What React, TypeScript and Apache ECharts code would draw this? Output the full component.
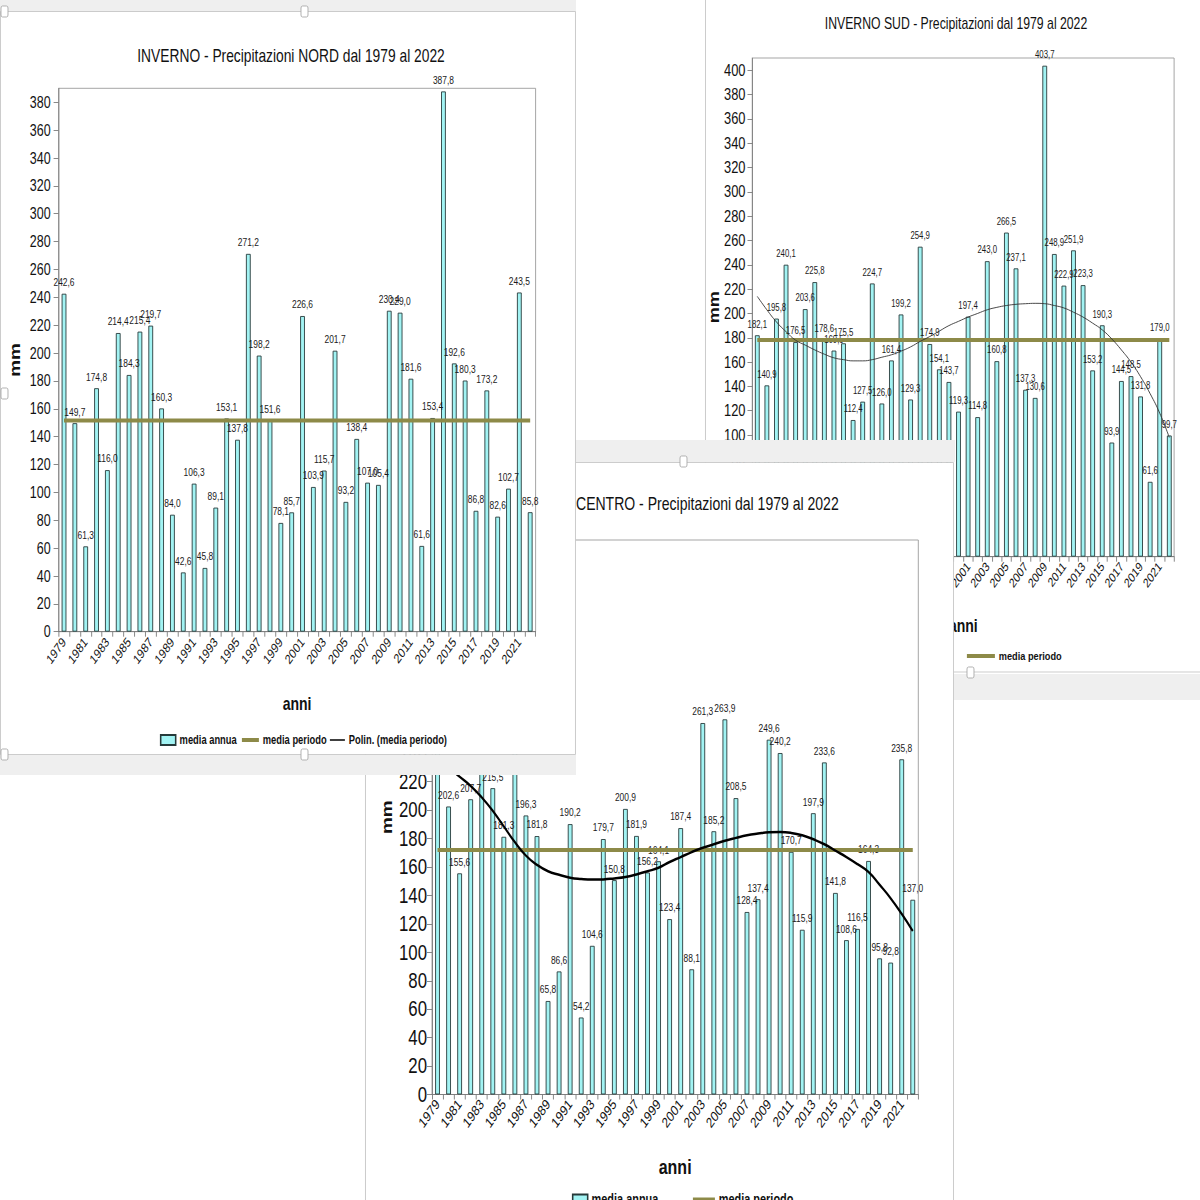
import React, { useEffect, useRef } from "react";
import * as echarts from "echarts";

const YEARS = [
  "1979", "1980", "1981", "1982", "1983", "1984", "1985", "1986", "1987", "1988",
  "1989", "1990", "1991", "1992", "1993", "1994", "1995", "1996", "1997", "1998",
  "1999", "2000", "2001", "2002", "2003", "2004", "2005", "2006", "2007", "2008",
  "2009", "2010", "2011", "2012", "2013", "2014", "2015", "2016", "2017", "2018",
  "2019", "2020", "2021", "2022",
];

const NORD_VALUES = [
  242.6, 149.7, 61.3, 174.8, 116.0, 214.4, 184.3, 215.4, 219.7, 160.3,
  84.0, 42.6, 106.3, 45.8, 89.1, 153.1, 137.8, 271.2, 198.2, 151.6,
  78.1, 85.7, 226.6, 103.9, 115.7, 201.7, 93.2, 138.4, 107.0, 105.4,
  230.4, 229.0, 181.6, 61.6, 153.4, 387.8, 192.6, 180.3, 86.8, 173.2,
  82.6, 102.7, 243.5, 85.8,
];
const NORD_MEDIA = 151.5;

const SUD_VALUES = [
  182.1, 140.9, 195.8, 240.1, 176.5, 203.6, 225.8, 178.6, 169.5, 175.5,
  112.4, 127.5, 224.7, 126.0, 161.4, 199.2, 129.3, 254.9, 174.9, 154.1,
  143.7, 119.3, 197.4, 114.8, 243.0, 160.8, 266.5, 237.1, 137.3, 130.6,
  403.7, 248.9, 222.9, 251.9, 223.3, 153.2, 190.3, 93.9, 144.5, 148.5,
  131.8, 61.6, 179.0, 99.7,
];
const SUD_MEDIA = 178.2;
const SUD_TREND = [
  214, 203, 193, 185, 178, 174, 170, 166.5, 163.5, 162,
  161, 161, 162, 164, 166, 169, 172.5, 177, 181, 185.5,
  190, 193.5, 197, 200, 203, 205, 206.5, 207.5, 208, 208.3,
  208, 206.5, 204.5, 201, 197, 192, 186.5, 179, 170, 160,
  148, 134, 118, 98,
];

const CENTRO_VALUES = [
  262.0, 202.6, 155.6, 207.7, 236.0, 215.5, 181.3, 246.0, 196.3, 181.8,
  65.8, 86.6, 190.2, 54.2, 104.6, 179.7, 150.8, 200.9, 181.9, 156.2,
  164.1, 123.4, 187.4, 88.1, 261.3, 185.2, 263.9, 208.5, 128.4, 137.4,
  249.6, 240.2, 170.7, 115.9, 197.9, 233.6, 141.8, 108.6, 116.5, 164.3,
  95.8, 92.8, 235.8, 137.0,
];
const CENTRO_MEDIA = 172.0;
const CENTRO_TREND = [
  236, 230, 223.5, 217, 209, 199.5, 188.5, 177.5, 168, 161.5,
  157, 154.5, 152.5, 151.6, 151.2, 151.3, 152, 153, 154.8, 157,
  159.5, 163.5, 167, 170.5, 173.5, 176, 178.5, 180.5, 182.3, 183.5,
  184.4, 184.6, 184, 182.3, 179.5, 176, 171.5, 167, 162, 156.5,
  147.5, 138, 127, 115,
];

// The reference is a horizontally compressed screenshot: the chart is drawn
// wider and squeezed back with a CSS scaleX so that text looks condensed.
const SX = 0.78;
const cx = (v: number) => v / SX;
const CHART_W = Math.ceil(1200 / SX);

const FONT = '"Liberation Sans", Arial, sans-serif';
const BAR_FILL = "#a2f3f3";
const BAR_EDGE = "#263a3a";
const OLIVE = "#8d8a48";
const AXIS = "#7a7a7a";

const fmt = (p: any) => Number(p.value).toFixed(1).replace(".", ",");

type Cfg = {
  i: number;
  z: number;
  grid: { left: number; top: number; width: number; height: number };
  max: number;
  values: number[];
  media: number;
  trend: number[] | null;
  trendWidth: number;
  trendColor: string;
  yFont: number;
  yMargin: number;
  xFont: number;
  xMargin: number;
  labelFont: number;
  nameGapX: number;
  nameGapY: number;
  nameFont: number;
  mmFont: number;
  extraLegendSeries: boolean;
};

function build(c: Cfg) {
  const grid = {
    ...c.grid,
    show: true,
    borderColor: "#9a9a9a",
    borderWidth: 1,
    backgroundColor: "transparent",
    z: c.z + 1,
  };
  const xAxis = {
    type: "category",
    gridIndex: c.i,
    data: YEARS,
    z: c.z + 1,
    axisLine: { lineStyle: { color: AXIS, width: 1 } },
    axisTick: { show: true, interval: 0, length: 5, lineStyle: { color: AXIS } },
    axisLabel: {
      interval: 1,
      rotate: 48,
      fontSize: c.xFont,
      fontFamily: FONT,
      color: "#111",
      margin: c.xMargin,
    },
    name: "anni",
    nameLocation: "middle",
    nameGap: c.nameGapX,
    nameTextStyle: { fontSize: c.nameFont, fontWeight: "bold", fontFamily: FONT, color: "#111" },
  };
  const yAxis = {
    type: "value",
    gridIndex: c.i,
    min: 0,
    max: c.max,
    interval: 20,
    z: c.z + 1,
    splitLine: { show: false },
    axisLine: { show: true, lineStyle: { color: AXIS } },
    axisTick: { show: true, length: cx(5), lineStyle: { color: AXIS } },
    axisLabel: {
      fontSize: c.yFont,
      fontFamily: FONT,
      color: "#111",
      margin: c.yMargin,
      showMaxLabel: false,
    },
    name: "mm",
    nameLocation: "middle",
    nameRotate: 90,
    nameGap: c.nameGapY,
    nameTextStyle: { fontSize: c.mmFont, fontWeight: "bold", fontFamily: FONT, color: "#111" },
  };
  const series: any[] = [
    {
      type: "bar",
      name: "media annua",
      xAxisIndex: c.i,
      yAxisIndex: c.i,
      data: c.values,
      barWidth: 6,
      z: c.z + 2,
      itemStyle: { color: BAR_FILL, borderColor: BAR_EDGE, borderWidth: 1 },
      label: {
        show: true,
        position: "top",
        distance: 6,
        fontSize: c.labelFont,
        fontFamily: FONT,
        color: "#1a1a1a",
        formatter: fmt,
      },
    },
    {
      type: "line",
      name: "media periodo",
      xAxisIndex: c.i,
      yAxisIndex: c.i,
      data: new Array(YEARS.length).fill(c.media),
      symbol: "none",
      z: c.z + 3,
      lineStyle: { color: OLIVE, width: 4 },
      itemStyle: { color: OLIVE },
    },
  ];
  if (c.trend) {
    series.push({
      type: "line",
      name: "Polin. (media annua)",
      xAxisIndex: c.i,
      yAxisIndex: c.i,
      data: c.trend,
      smooth: 0.5,
      symbol: "none",
      z: c.z + 4,
      lineStyle: { color: c.trendColor, width: c.trendWidth },
      itemStyle: { color: c.trendColor },
    });
  }
  if (c.extraLegendSeries) {
    series.push({
      type: "line",
      name: "Polin. (media periodo)",
      xAxisIndex: c.i,
      yAxisIndex: c.i,
      data: [],
      symbol: "none",
      z: c.z + 4,
      lineStyle: { color: "#000", width: 1 },
      itemStyle: { color: "#000" },
    });
  }
  return { grid, xAxis, yAxis, series };
}

const sud = build({
  i: 0, z: 2,
  grid: { left: cx(752.5), top: 58, width: cx(421.6), height: 498.7 },
  max: 410, values: SUD_VALUES, media: SUD_MEDIA, trend: SUD_TREND,
  trendWidth: 1, trendColor: "#333",
  yFont: 16.5, yMargin: cx(7), xFont: 13, xMargin: 7, labelFont: 10,
  nameGapX: 60, nameGapY: cx(30), nameFont: 18, mmFont: 18, extraLegendSeries: false,
});
const centro = build({
  i: 1, z: 12,
  grid: { left: cx(432), top: 540, width: cx(486.3), height: 554.5 },
  max: 390, values: CENTRO_VALUES, media: CENTRO_MEDIA, trend: CENTRO_TREND,
  trendWidth: 2.5, trendColor: "#000",
  yFont: 21.5, yMargin: cx(5), xFont: 14.5, xMargin: 7, labelFont: 10.8,
  nameGapX: 62, nameGapY: cx(37), nameFont: 20.5, mmFont: 19, extraLegendSeries: false,
});
const nord = build({
  i: 2, z: 22,
  grid: { left: cx(58.6), top: 88.3, width: cx(477), height: 543.4 },
  max: 390, values: NORD_VALUES, media: NORD_MEDIA, trend: null,
  trendWidth: 1, trendColor: "#000",
  yFont: 16, yMargin: cx(8), xFont: 13.5, xMargin: 8, labelFont: 10.8,
  nameGapX: 63, nameGapY: cx(36), nameFont: 18, mmFont: 19, extraLegendSeries: true,
});

const handle = (x: number, y: number, z: number) => ({
  type: "rect",
  z,
  silent: true,
  shape: { x: cx(x), y, width: cx(7), height: 11, r: 2 },
  style: { fill: "#fff", stroke: "#a8a8a8", lineWidth: 1 },
});
const panelRect = (x: number, y: number, w: number, h: number, z: number, fill: string, stroke?: string) => ({
  type: "rect",
  z,
  silent: true,
  shape: { x: cx(x), y, width: cx(w), height: h },
  style: stroke ? { fill, stroke, lineWidth: 1 } : { fill },
});

const legendText = (size: number) => ({ fontSize: size, fontWeight: "bold", fontFamily: FONT, color: "#111" });
const titleStyle = (size: number) => ({
  fontFamily: FONT,
  fontSize: size,
  fontWeight: "normal",
  color: "#111",
});

// one legend component per entry, so each swatch keeps its own shape and place
const legendItem = (
  name: string, left: number, top: number, w: number, h: number, z: number, size: number, color?: string,
) => ({
  z,
  left: cx(left),
  top,
  itemWidth: cx(w),
  itemHeight: h,
  selectedMode: false,
  data: [color ? { name, icon: "rect", itemStyle: { color, borderWidth: 0 } } : { name, icon: "rect" }],
  textStyle: legendText(size),
});

const option: any = {
  animation: false,
  backgroundColor: "#ffffff",
  title: [
    {
      text: "INVERNO SUD - Precipitazioni dal 1979 al 2022",
      left: cx(956), top: 15, textAlign: "center", padding: 0, z: 5,
      textStyle: titleStyle(15.7),
    },
    {
      text: "CENTRO - Precipitazioni dal 1979 al 2022",
      left: cx(576), top: 494, padding: 0, z: 15,
      textStyle: titleStyle(18),
    },
    {
      text: "INVERNO - Precipitazioni NORD dal 1979 al 2022",
      left: cx(291), top: 47, textAlign: "center", padding: 0, z: 25,
      textStyle: titleStyle(17.7),
    },
  ],
  legend: [
    legendItem("media periodo", 963, 645, 28, 4, 5, 11.8, OLIVE),
    legendItem("media annua", 568, 1188, 15, 11, 15, 14),
    legendItem("media periodo", 689, 1188, 22, 5, 15, 14, OLIVE),
    legendItem("media annua", 156, 729, 15, 10, 25, 12),
    legendItem("media periodo", 238, 729, 17, 4, 25, 12, OLIVE),
    legendItem("Polin. (media periodo)", 326, 729, 15, 1.5, 25, 12, "#000"),
  ],
  grid: [sud.grid, centro.grid, nord.grid],
  xAxis: [sud.xAxis, centro.xAxis, nord.xAxis],
  yAxis: [sud.yAxis, centro.yAxis, nord.yAxis],
  series: [...sud.series, ...centro.series, ...nord.series],
  graphic: {
    elements: [
      // SUD panel (back)
      panelRect(705.5, -2, 500, 674, 1, "#fff", "#c6c6c6"),
      panelRect(705, 674, 495, 26, 1, "#efefef"),
      handle(967, 667, 1),
      // CENTRO panel (middle)
      panelRect(365, 440, 590, 22, 10, "#efefef"),
      panelRect(365.5, 462.5, 588, 745, 10, "#fff", "#c6c6c6"),
      handle(680, 456, 10),
      // NORD panel (front)
      panelRect(0, 0, 576, 12, 20, "#efefef"),
      panelRect(0.5, 11.5, 575, 743, 20, "#fff", "#c6c6c6"),
      panelRect(0, 755, 576, 20, 20, "#efefef"),
      handle(1, 6, 20),
      handle(301, 6, 20),
      handle(1, 388, 20),
      handle(1, 749, 20),
      handle(301, 749, 20),
    ],
  },
};

export default function App() {
  const ref = useRef<HTMLDivElement>(null);
  useEffect(() => {
    if (!ref.current) return;
    const chart = echarts.init(ref.current, undefined, { renderer: "svg" });
    chart.setOption(option);
    return () => chart.dispose();
  }, []);
  return (
    <div
      style={{
        position: "absolute",
        left: 0,
        top: 0,
        width: 1200,
        height: 1200,
        overflow: "hidden",
        background: "#fff",
      }}
    >
      <div
        ref={ref}
        style={{
          width: CHART_W,
          height: 1200,
          transform: `scaleX(${SX})`,
          transformOrigin: "0 0",
        }}
      />
    </div>
  );
}
